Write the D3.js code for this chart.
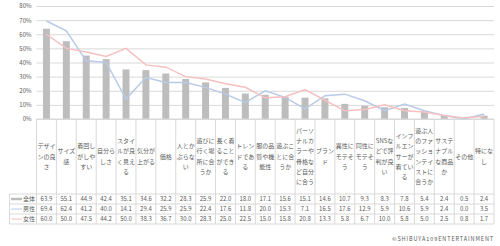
<!DOCTYPE html>
<html>
<head>
<meta charset="utf-8">
<script src="https://cdn.jsdelivr.net/npm/d3@7"></script>
<style>
  body { margin: 0; background: #fff; }
  text { font-family: "Noto Sans CJK JP", "Noto Sans", sans-serif; fill: #595959; }
</style>
</head>
<body>
<div id="chart"></div>
<script>
// data
const categories = ["デザインの良さ", "サイズ感", "着回しがしやすい", "自分らしさ", "スタイルが良く見える",
  "気分が上がる", "価格", "人とかぶらない", "遊びに行く場所に合うか", "長く着ることができる",
  "トレンドである", "服の品質や機能性", "遊ぶことに合うか", "パーソナルカラーや骨格など自分に合う",
  "ブランド", "異性にモテそう", "同性にモテそう", "SNSなどで評判が良い", "インフルエンサーが着ている",
  "遊ぶ人のファッションテイストに合うか", "サステナブルな商品か", "その他", "特になし"];
const total  = [63.9, 55.1, 44.9, 42.4, 35.1, 34.6, 32.2, 28.3, 25.9, 22.0, 18.0, 17.1, 15.6, 15.1, 14.6, 10.7, 9.3, 8.3, 7.8, 5.4, 2.4, 0.5, 2.4];
const male   = [69.4, 62.4, 41.2, 40.0, 14.1, 29.4, 25.9, 25.9, 22.4, 17.6, 11.8, 20.0, 15.3, 7.1, 16.5, 17.6, 12.9, 5.9, 10.6, 5.9, 2.4, 0.0, 3.5];
const female = [60.0, 50.0, 47.5, 44.2, 50.0, 38.3, 36.7, 30.0, 28.3, 25.0, 22.5, 15.0, 15.8, 20.8, 13.3, 5.8, 6.7, 10.0, 5.8, 5.0, 2.5, 0.8, 1.7];
const seriesNames = ["全体", "男性", "女性"];
const yTicks = [0, 10, 20, 30, 40, 50, 60, 70, 80];

const W = 500, H = 246;
const plotLeft = 36.5, plotRight = 494, plotTop = 6, base = 119;
const headBottom = 194, rowH = 10, tableLeft = 9.5;
const barColor = "#bdbdbd", maleColor = "#b8cae8", femaleColor = "#f6c0c0", gridColor = "#d9d9d9";

const svg = d3.select("#chart").append("svg")
  .attr("width", W).attr("height", H);

const x = d3.scaleBand().domain(categories).range([plotLeft, plotRight]);
const y = d3.scaleLinear().domain([0, 80]).range([base, plotTop]);
const bw = x.bandwidth();

// gridlines + y labels
const yAxis = svg.append("g")
  .attr("transform", "translate(" + plotLeft + ",0)")
  .call(d3.axisLeft(y).tickValues(yTicks).tickSize(-(plotRight - plotLeft)).tickFormat(d => d + "%").tickPadding(5));
yAxis.select(".domain").remove();
yAxis.selectAll("line").attr("stroke", gridColor).attr("stroke-width", 1);
yAxis.selectAll("text").style("font-size", "6px").attr("fill", "#595959");

// bars
const barW = bw * 0.35;
svg.append("g").selectAll("rect")
  .data(categories)
  .enter().append("rect")
  .attr("x", (d) => x(d) + (bw - barW) / 2)
  .attr("y", (d, i) => y(total[i]))
  .attr("width", barW)
  .attr("height", (d, i) => base - y(total[i]))
  .attr("fill", barColor);

// lines
const line = d3.line()
  .x((d, i) => x(categories[i]) + bw / 2)
  .y(d => y(d));
svg.append("path").datum(male).attr("d", line)
  .attr("fill", "none").attr("stroke", maleColor).attr("stroke-width", 1.5);
svg.append("path").datum(female).attr("d", line)
  .attr("fill", "none").attr("stroke", femaleColor).attr("stroke-width", 1.5);

// table grid
const grid = svg.append("g").attr("stroke", gridColor).attr("stroke-width", 1);
const bounds = categories.map(c => x(c)).concat([plotRight]);
bounds.forEach(b => {
  grid.append("line").attr("x1", b).attr("x2", b).attr("y1", base).attr("y2", headBottom + rowH * 3);
});
grid.append("line").attr("x1", tableLeft).attr("x2", tableLeft).attr("y1", headBottom).attr("y2", headBottom + rowH * 3);
for (let r = 0; r <= 3; r++) {
  grid.append("line").attr("x1", tableLeft).attr("x2", plotRight)
    .attr("y1", headBottom + r * rowH).attr("y2", headBottom + r * rowH);
}
grid.append("line").attr("x1", plotLeft).attr("x2", plotRight).attr("y1", base).attr("y2", base);

// header labels, wrapped to the column width
const headG = svg.append("g");
categories.forEach(c => {
  const t = headG.append("text").style("font-size", "6px").attr("text-anchor", "middle");
  // greedy wrap per character
  const lines = [];
  let cur = "";
  const probe = svg.append("text").style("font-size", "6px");
  for (const ch of c) {
    probe.text(cur + ch);
    if (probe.node().getComputedTextLength() > bw - 1.5 && cur) {
      lines.push(cur); cur = ch;
    } else cur += ch;
  }
  lines.push(cur);
  probe.remove();
  const lh = 10.3;
  const cy = (base + headBottom) / 2;
  const y0 = cy - (lines.length - 1) * lh / 2 + 2;
  lines.forEach((l, k) => {
    t.append("tspan").attr("x", x(c) + bw / 2).attr("y", y0 + k * lh).text(l);
  });
});

// data rows
const rows = [total, male, female];
const keyColors = [barColor, maleColor, femaleColor];
const keyWidths = [2.5, 1, 1];
rows.forEach((vals, r) => {
  const cy = headBottom + r * rowH + rowH / 2;
  svg.append("line").attr("x1", 11).attr("x2", 22).attr("y1", cy).attr("y2", cy)
    .attr("stroke", keyColors[r]).attr("stroke-width", keyWidths[r]);
  svg.append("text").attr("x", 35).attr("y", cy + 2.1).attr("text-anchor", "end")
    .style("font-size", "6px").text(seriesNames[r]);
  svg.append("g").selectAll("text")
    .data(vals)
    .enter().append("text")
    .attr("x", (d, i) => x(categories[i]) + bw / 2)
    .attr("y", cy + 2.1)
    .attr("text-anchor", "middle")
    .style("font-size", "6px")
    .text(d => d.toFixed(1));
});

// credit
svg.append("text").attr("x", plotRight).attr("y", 241).attr("text-anchor", "end")
  .style("font-size", "5.5px").style("letter-spacing", "0.9px").attr("fill", "#7f7f7f")
  .text("©SHIBUYA109ENTERTAINMENT");
</script>
</body>
</html>
